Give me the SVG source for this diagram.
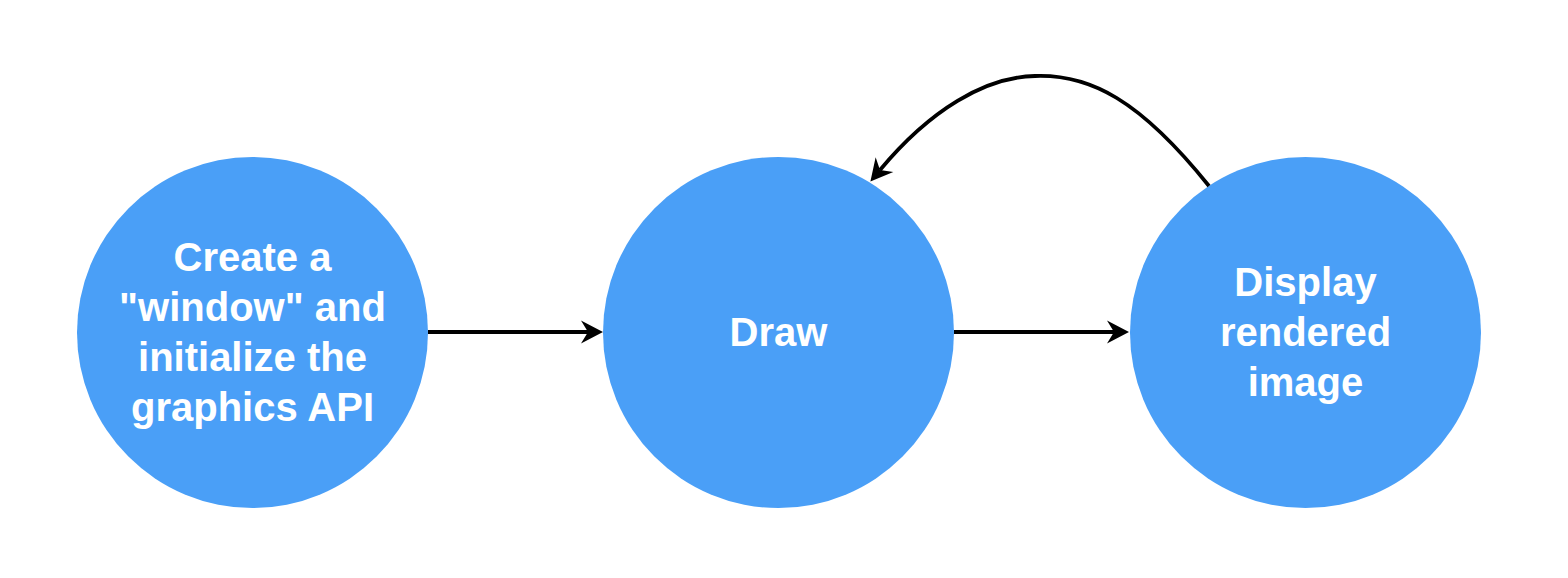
<svg xmlns="http://www.w3.org/2000/svg" width="1568" height="578" viewBox="0 0 1568 578" shape-rendering="geometricPrecision">
<style>
.node{fill:#4A9FF7;}
.lbl{font-family:"Liberation Sans",Arial,Helvetica,sans-serif;font-weight:bold;font-size:40px;fill:#ffffff;text-anchor:middle;}
.edge{fill:none;stroke:#000;stroke-width:3.8;marker-end:url(#arr);}
</style>
<defs>
<marker id="arr" markerUnits="userSpaceOnUse" markerWidth="24" markerHeight="24" viewBox="0 0 24 24" refX="7" refY="12" orient="auto">
<path d="M0,0.5 L22,12 L0,23.5 L7,12 Z" fill="#000"/>
</marker>
</defs>
<rect width="1568" height="578" fill="#ffffff"/>
<g id="node-create">
<circle class="node" cx="252.5" cy="332.5" r="175.5"/>
<text class="lbl" x="252.5" y="271">Create a</text>
<text class="lbl" x="252.5" y="321">"window" and</text>
<text class="lbl" x="252.5" y="371">initialize the</text>
<text class="lbl" x="252.5" y="421">graphics API</text>
</g>
<g id="node-draw">
<circle class="node" cx="778.5" cy="332.5" r="175.5"/>
<text class="lbl" x="778.5" y="346">Draw</text>
</g>
<g id="node-display">
<circle class="node" cx="1305.5" cy="332.5" r="175.5"/>
<text class="lbl" x="1305.5" y="296">Display</text>
<text class="lbl" x="1305.5" y="346">rendered</text>
<text class="lbl" x="1305.5" y="396">image</text>
</g>
<g id="connectors">
<path class="edge" d="M428,332 L588,332"/>
<path class="edge" d="M954,332 L1114,332"/>
<path class="edge" d="M1209,186 C1140,100 1090,74 1035,76 C985,77 930,110 880,170"/>
</g>
</svg>
